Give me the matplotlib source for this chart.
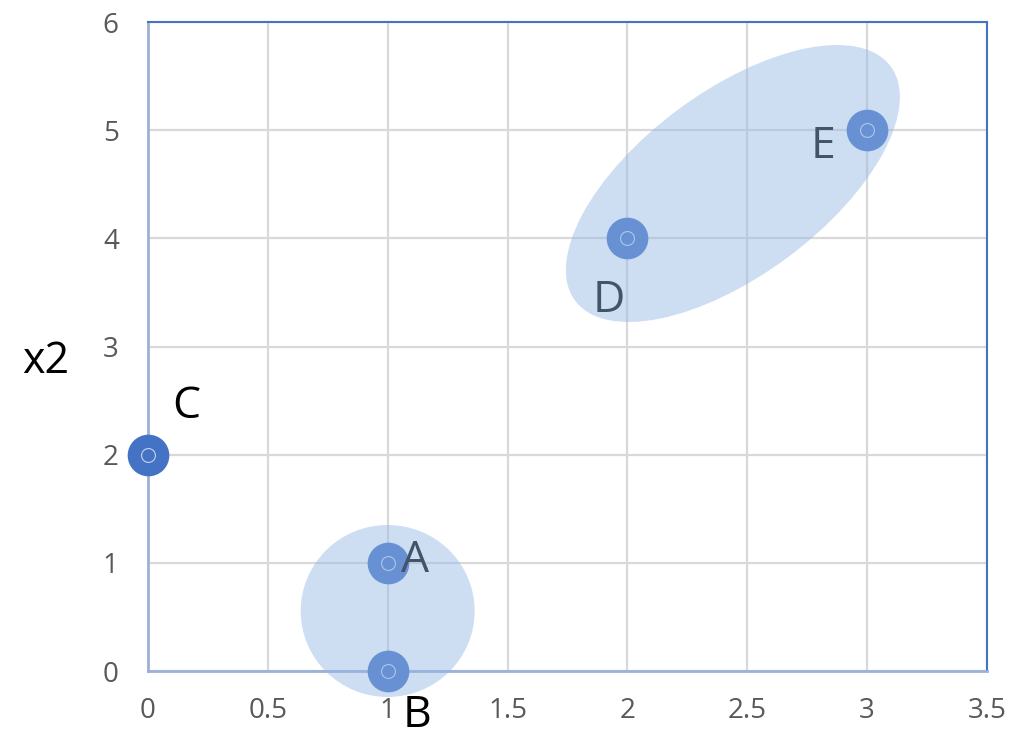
import matplotlib
matplotlib.use('Agg')
import matplotlib.pyplot as plt
import matplotlib.transforms as mtransforms
from matplotlib.patches import Ellipse

# Punkte und Beschriftungen
names = ['A', 'B', 'C', 'D', 'E']
x1 = [1, 1, 0, 2, 3]
x2 = [1, 0, 2, 4, 5]

x_ticks = [0, 0.5, 1, 1.5, 2, 2.5, 3, 3.5]
x_tick_labels = ['0', '0.5', '1', '1.5', '2', '2.5', '3', '3.5']
y_ticks = [0, 1, 2, 3, 4, 5, 6]

# Cluster-Hüllen: Mittelpunkt in Datenkoordinaten
cluster_centers = [(1.0, 0.555), (2.44, 4.507)]

plt.rcParams['font.family'] = ['Open Sans', 'DejaVu Sans']

fig = plt.figure(figsize=(10.1, 7.34), dpi=100)
ax = fig.add_axes([0.1465, 0.0858, 0.8307, 0.8842])

ax.set_xlim(0, 3.5)
ax.set_ylim(0, 6)
ax.set_xticks(x_ticks)
ax.set_xticklabels(x_tick_labels)
ax.set_yticks(y_ticks)
ax.tick_params(length=0, labelsize=20, labelcolor='#595959')
ax.tick_params(axis='x', pad=19)
ax.tick_params(axis='y', pad=21)
ax.grid(True, color='#D9D9D9', linewidth=1.6)
ax.set_axisbelow(True)

for side in ['top', 'right']:
    ax.spines[side].set_color('#4472C4')
    ax.spines[side].set_linewidth(1.5)
for side in ['left', 'bottom']:
    ax.spines[side].set_color('#9DB0D8')
    ax.spines[side].set_linewidth(2)

# Punkte mit kleinem Ring in der Mitte
ax.plot(x1, x2, 'o', markersize=30, color='#4472C4', markeredgewidth=0,
        zorder=3, clip_on=False)
ax.plot(x1, x2, 'o', markersize=10, markerfacecolor='none',
        markeredgecolor='#C5D5EE', markeredgewidth=0.8, zorder=3.5, clip_on=False)

offsets = {
    'A': (9.4, -6.5, 'left'),
    'B': (10.8, -40.5, 'left'),
    'C': (17.3, 26.6, 'left'),
    'D': (-13.3, -53.3, 'center'),
    'E': (-23, -20.2, 'right'),
}
for name, xv, yv in zip(names, x1, x2):
    dx, dy, ha = offsets[name]
    ax.annotate(name, (xv, yv), xytext=(dx, dy), textcoords='offset points',
                ha=ha, va='baseline', fontsize=32, color='black',
                zorder=4, annotation_clip=False)

# Hüllen in Zoll, damit die Form unabhängig von der Achsenskalierung bleibt
sizes = [(1.74, 1.72, 0), (3.93, 1.84, 36.6)]
for (cx, cy), (w, h, ang) in zip(cluster_centers, sizes):
    trans = fig.dpi_scale_trans + mtransforms.ScaledTranslation(cx, cy, ax.transData)
    e = Ellipse((0, 0), w, h, angle=ang, transform=trans,
                facecolor='#94B7E6', edgecolor='none', alpha=0.46,
                zorder=5, clip_on=False)
    ax.add_patch(e)

fig.text(46 / 1010, 1 - 373 / 734, 'x2', ha='center', va='baseline',
         fontsize=31, color='black')

fig.savefig('out.png', dpi=100)
